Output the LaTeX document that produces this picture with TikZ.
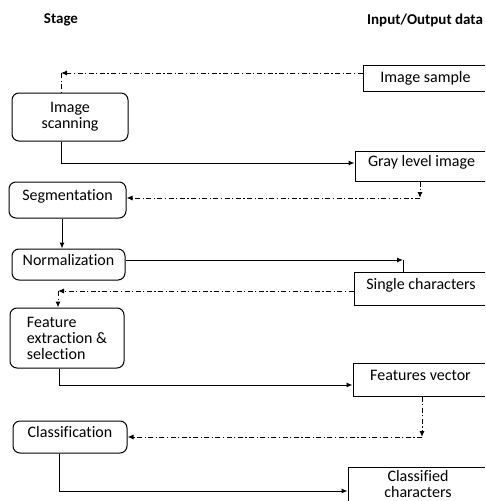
\documentclass[tikz,border=0pt]{standalone}
\usepackage{fontspec}
\setmainfont{Carlito}[Ligatures=NoCommon]
\usetikzlibrary{arrows.meta}

\begin{document}
\begin{tikzpicture}[x=1pt,y=-1pt,line width=1pt,
    font=\fontsize{16}{16}\selectfont,
    stagebox/.style={draw,rounded corners=7pt,inner sep=2pt},
    databox/.style={draw,inner sep=2pt},
    oneline/.style={text height=10pt,text depth=9pt},
    head/.style={font=\fontsize{15}{16}\selectfont\bfseries},
    tip/.style={-{Latex[length=6pt,width=5pt]}},
    dataflow/.style={dash pattern=on 5pt off 2.5pt on 1.2pt off 2.5pt}]
        \useasboundingbox (0,0) rectangle (485,501);
        \clip (0,0) rectangle (485,501);
        % headings
        \node[head] (stagehd) at (61,20) {Stage};
        \node[head] (iohd) at (425,20) {Input/Output data};
        % stages
        \node[stagebox,minimum width=116pt,minimum height=48pt,align=center] (scan) at (70,117) {Image\\scanning};
        \node[stagebox,oneline,minimum width=117pt,minimum height=36pt] (seg) at (67.5,200) {Segmentation};
        \node[stagebox,oneline,minimum width=113pt,minimum height=31pt] (norm) at (68.5,264.5) {Normalization};
        \node[stagebox,minimum width=114pt,minimum height=60pt,align=left] (feat) at (67,338) {Feature\\extraction \&\\selection};
        \node[stagebox,oneline,minimum width=114pt,minimum height=32pt] (class) at (70,437) {Classification};
        % data
        \node[databox,minimum width=125pt,minimum height=26pt] (sample) at (425.5,78) {Image sample};
        \node[databox,oneline,minimum width=133pt,minimum height=30pt] (gray) at (421.5,166) {Gray level image};
        \node[databox,oneline,minimum width=134pt,minimum height=33pt] (single) at (421,288.5) {Single characters};
        \node[databox,oneline,minimum width=135pt,minimum height=33pt] (fvec) at (420.5,379.5) {Features vector};
        \node[databox,minimum width=140pt,minimum height=38pt,align=center,text depth=7pt] (clsd) at (418,487) {Classified\\characters};
        % connectors
        \coordinate (c1) at (61,73);
        \draw[dataflow,tip] ([yshift=5pt]sample.west) -- (c1);
        \draw[dataflow] (c1) -- (c1 |- scan.north);
        \coordinate (c2) at (61,163);
        \draw[tip] (c2 |- scan.south) -- (c2) -- (gray.west |- c2);
        \coordinate (c3) at (420,198);
        \draw[dataflow,tip] (c3 |- gray.south) -- (c3);
        \draw[dataflow,tip] (c3) -- (seg.east |- c3);
        \draw[tip] ([xshift=-5.5pt]seg.south) -- ([xshift=-5.5pt]seg.south |- norm.north);
        \coordinate (c5) at (403,260);
        \draw[tip] (norm.east |- c5) -- (c5);
        \draw (c5) -- (c5 |- single.north);
        \coordinate (c6) at (58,291);
        \draw[dataflow,tip] (single.west |- c6) -- (c6);
        \draw[dataflow,tip] (c6) -- (c6 |- feat.north);
        \coordinate (c7) at (59,385);
        \draw[tip] (c7 |- feat.south) -- (c7) -- (fvec.west |- c7);
        \coordinate (c8) at (422,437);
        \draw[dataflow,tip] (c8 |- fvec.south) -- (c8);
        \draw[dataflow,tip] (c8) -- (class.east |- c8);
        \coordinate (c9) at (59,491);
        \draw[tip] (c9 |- class.south) -- (c9) -- (clsd.west |- c9);
\end{tikzpicture}
\end{document}
